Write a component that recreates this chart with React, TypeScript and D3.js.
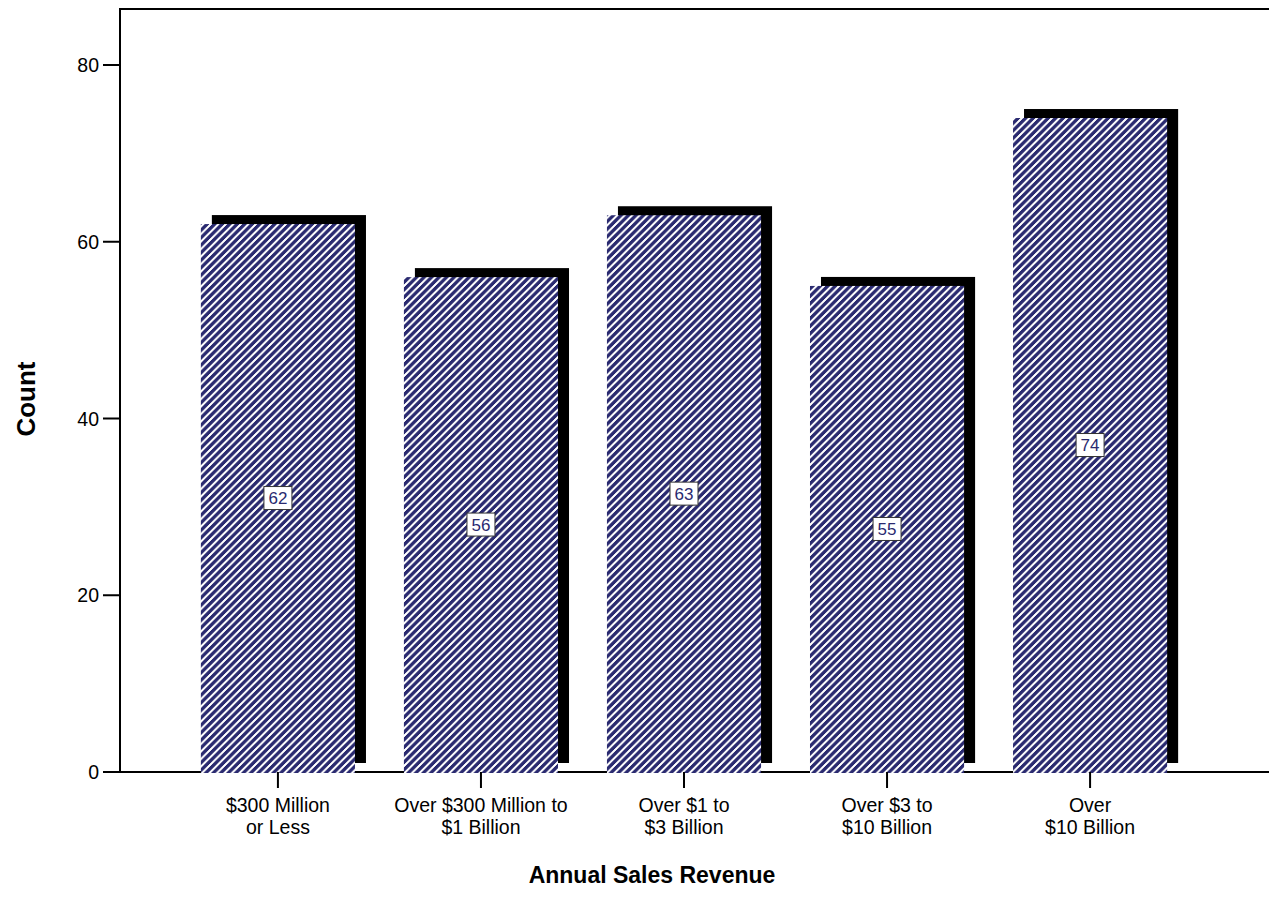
import React from "react";
import * as d3 from "d3";

const categories = [
  ["$300 Million", "or Less"],
  ["Over $300 Million to", "$1 Billion"],
  ["Over $1 to", "$3 Billion"],
  ["Over $3 to", "$10 Billion"],
  ["Over", "$10 Billion"],
];
const counts = [62, 56, 63, 55, 74];
const yTicks = [0, 20, 40, 60, 80];

const W = 1269;
const H = 904;
const FONT = "'Liberation Sans', Arial, sans-serif";
const NAVY = "#2a2a70";

export default function App() {
  const axisX = 120;
  const baseY = 772;
  const topY = 9;
  const y = d3.scaleLinear().domain([0, 80]).range([baseY, 65]);
  const keys = categories.map((_, i) => String(i));
  const x = d3
    .scaleBand<string>()
    .domain(keys)
    .range([176.5, 1191.5])
    .paddingInner(0.241)
    .paddingOuter(0.12);
  const bw = x.bandwidth();

  return (
    <svg
      width={W}
      height={H}
      style={{ position: "absolute", left: 0, top: 0, background: "#fff" }}
      fontFamily={FONT}
    >
      <defs>
        <pattern id="hatch" patternUnits="userSpaceOnUse" width={7.5} height={7.5}>
          <rect width={7.5} height={7.5} fill={NAVY} />
          <path
            d="M0,7.5 L7.5,0 M-1.5,1.5 L1.5,-1.5 M6,9 L9,6"
            stroke="#fff"
            strokeWidth={1.7}
            shapeRendering="crispEdges"
          />
        </pattern>
      </defs>

      {/* frame */}
      <line x1={axisX} x2={W} y1={topY} y2={topY} stroke="#000" strokeWidth={2} />
      <line x1={axisX} x2={axisX} y1={topY - 1} y2={baseY + 1} stroke="#000" strokeWidth={2} />
      <line x1={axisX} x2={W} y1={baseY} y2={baseY} stroke="#000" strokeWidth={2} />

      {/* y ticks */}
      {yTicks.map((t) => (
        <g key={t}>
          <line x1={103} x2={axisX} y1={y(t)} y2={y(t)} stroke="#000" strokeWidth={2} />
          <text x={99} y={y(t)} dy="0.36em" textAnchor="end" fontSize={19.5}>
            {t}
          </text>
        </g>
      ))}

      {/* bars */}
      {counts.map((v, i) => {
        const bx = x(String(i))!;
        const by = y(v);
        return (
          <g key={i}>
            <rect x={bx + 11} y={by - 9} width={bw} height={baseY - by} fill="#000" />
            <rect x={bx} y={by} width={bw} height={baseY + 1 - by} fill="url(#hatch)" />
          </g>
        );
      })}

      {/* value labels */}
      {counts.map((v, i) => {
        const cx = x(String(i))! + bw / 2;
        const cy = y(v / 2);
        return (
          <g key={i}>
            <rect x={cx - 14} y={cy - 11.5} width={28} height={23} fill="#fff" stroke="#333" strokeWidth={1} />
            <text x={cx} y={cy} dy="0.36em" textAnchor="middle" fontSize={17} fill={NAVY}>
              {v}
            </text>
          </g>
        );
      })}

      {/* x ticks & labels */}
      {categories.map((lines, i) => {
        const cx = x(String(i))! + bw / 2;
        return (
          <g key={i}>
            <line x1={cx} x2={cx} y1={baseY} y2={788} stroke="#000" strokeWidth={2} />
            {lines.map((l, j) => (
              <text key={j} x={cx} y={812 + j * 22} textAnchor="middle" fontSize={19.5}>
                {l}
              </text>
            ))}
          </g>
        );
      })}

      {/* axis titles */}
      <text
        transform={`translate(35, 399) rotate(-90)`}
        textAnchor="middle"
        fontSize={26}
        fontWeight="bold"
      >
        Count
      </text>
      <text x={652} y={883} textAnchor="middle" fontSize={23} fontWeight="bold">
        Annual Sales Revenue
      </text>
    </svg>
  );
}
